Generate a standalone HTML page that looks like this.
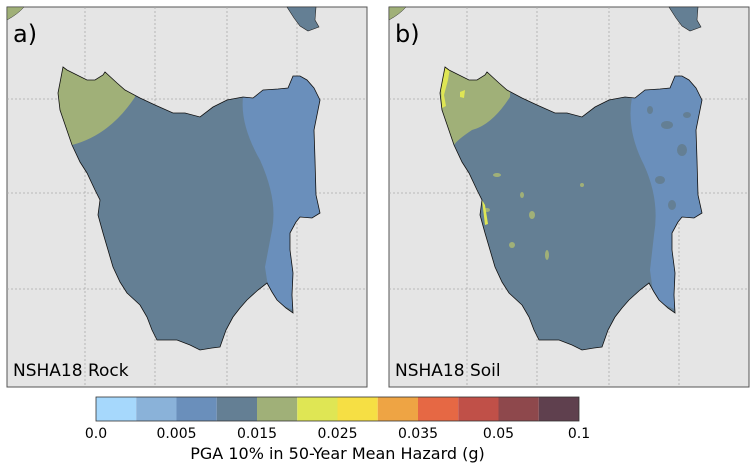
<!DOCTYPE html>
<html><head><style>
body{margin:0;background:#fff;width:756px;height:468px;overflow:hidden;font-family:"DejaVu Sans","Liberation Sans",sans-serif}
</style></head><body>
<svg width="756" height="468" xmlns="http://www.w3.org/2000/svg" font-family="DejaVu Sans, Liberation Sans, sans-serif">
<defs>
<path id="tas" d="M63,67 L58,93 L60,110 L72,145 L80,162 L87,173 L95,190 L100,200 L98,215 L103,233 L108,250 L113,267 L120,282 L127,293 L140,305 L147,317 L152,330 L157,340 L177,340 L190,345 L200,350 L212,348 L220,347 L226,330 L233,317 L240,308 L247,300 L258,290 L267,283 L272,292 L277,300 L286,308 L293,313 L292,295 L293,273 L290,250 L290,233 L296,222 L300,217 L312,218 L320,213 L316,195 L315,160 L314,130 L320,100 L314,88 L307,80 L300,76 L293,76 L288,88 L278,89 L263,90 L253,98 L243,97 L227,100 L213,107 L200,117 L185,113 L173,113 L155,105 L140,98 L125,90 L117,83 L105,72 L103,75 L95,80 L87,80 L75,74 L67,70 Z"/>
<clipPath id="ca"><use href="#tas"/></clipPath>
</defs>

<g>
<rect x="7" y="7" width="360" height="380" fill="#e5e5e5" stroke="#555" stroke-width="1"/>
<g stroke="#aaa" stroke-width="0.8" stroke-dasharray="2,2">
<line x1="85" y1="7" x2="85" y2="387"/><line x1="155" y1="7" x2="155" y2="387"/><line x1="227" y1="7" x2="227" y2="387"/><line x1="297" y1="7" x2="297" y2="387"/>
<line x1="7" y1="99" x2="367" y2="99"/><line x1="7" y1="193" x2="367" y2="193"/><line x1="7" y1="289" x2="367" y2="289"/>
</g>
<path d="M7,7 L24,7 Q18,14 7,20 Z" fill="#a0b078" stroke="#333" stroke-width="0.5"/>
<path d="M287,7 L316,7 L315,20 L319,27 L308,31 L300,26 L294,18 Z" fill="#647f94" stroke="#222" stroke-width="0.6"/>
<g clip-path="url(#ca)">
<rect x="40" y="50" width="300" height="320" fill="#647f94"/>
<path d="M40,50 L140,50 L135,97 Q110,135 72,145 L40,150 Z" fill="#a0b078"/>
<path d="M243,50 L243,97 Q240,125 260,160 Q278,200 272,230 L265,267 L270,300 L340,330 L340,50 Z" fill="#6a8fbb"/>
</g>
<use href="#tas" fill="none" stroke="#111" stroke-width="0.8"/>
<text x="13" y="42" font-size="24" fill="#000">a)</text>
<text x="13" y="376" font-size="17" fill="#000">NSHA18 Rock</text>
</g>

<g transform="translate(382,0)">
<rect x="7" y="7" width="360" height="380" fill="#e5e5e5" stroke="#555" stroke-width="1"/>
<g stroke="#aaa" stroke-width="0.8" stroke-dasharray="2,2">
<line x1="85" y1="7" x2="85" y2="387"/><line x1="155" y1="7" x2="155" y2="387"/><line x1="227" y1="7" x2="227" y2="387"/><line x1="297" y1="7" x2="297" y2="387"/>
<line x1="7" y1="99" x2="367" y2="99"/><line x1="7" y1="193" x2="367" y2="193"/><line x1="7" y1="289" x2="367" y2="289"/>
</g>
<path d="M7,7 L24,7 Q18,14 7,20 Z" fill="#a0b078" stroke="#333" stroke-width="0.5"/>
<path d="M287,7 L316,7 L315,20 L319,27 L308,31 L300,26 L294,18 Z" fill="#647f94" stroke="#222" stroke-width="0.6"/>
<g clip-path="url(#ca)">
<rect x="40" y="50" width="300" height="320" fill="#647f94"/>
<path d="M40,50 L130,50 L128,97 Q110,125 90,130 Q75,140 72,145 L40,150 Z" fill="#a0b078"/>
<path d="M58,66 L68,68 L66,80 L62,95 L64,106 L60,108 Z" fill="#dfe654"/>
<path d="M78,92 L83,90 L82,98 L78,97 Z" fill="#dfe654"/>
<path d="M240,95 L250,97 Q244,130 262,165 Q278,200 272,235 L268,270 L272,300 L340,330 L340,50 L240,50 Z" fill="#6a8fbb"/>
<g fill="#647f94">
<ellipse cx="285" cy="125" rx="6" ry="4"/><ellipse cx="300" cy="150" rx="5" ry="6"/><ellipse cx="278" cy="180" rx="5" ry="4"/>
<ellipse cx="305" cy="115" rx="4" ry="3"/><ellipse cx="290" cy="205" rx="4" ry="5"/><ellipse cx="268" cy="110" rx="3" ry="4"/>
</g>
<g fill="#a0b078">
<ellipse cx="115" cy="175" rx="4" ry="2"/><ellipse cx="150" cy="215" rx="3" ry="4"/><ellipse cx="130" cy="245" rx="3" ry="3"/>
<ellipse cx="165" cy="255" rx="2" ry="5"/><ellipse cx="105" cy="210" rx="3" ry="2"/><ellipse cx="200" cy="185" rx="2" ry="2"/>
<ellipse cx="140" cy="195" rx="2" ry="3"/>
</g>
<path d="M100,200 L103,225 L106,224 L103,205 Z" fill="#dfe654"/>
</g>
<use href="#tas" fill="none" stroke="#111" stroke-width="0.8"/>
<text x="13" y="42" font-size="24" fill="#000">b)</text>
<text x="13" y="376" font-size="17" fill="#000">NSHA18 Soil</text>
</g>

<g>
<rect x="96" y="397" width="40.25" height="24" fill="#a6d8fc"/>
<rect x="136.25" y="397" width="40.25" height="24" fill="#8ab2d9"/>
<rect x="176.5" y="397" width="40.25" height="24" fill="#6a8fbb"/>
<rect x="216.75" y="397" width="40.25" height="24" fill="#647f94"/>
<rect x="257" y="397" width="40.25" height="24" fill="#a0b078"/>
<rect x="297.25" y="397" width="40.25" height="24" fill="#dfe654"/>
<rect x="337.5" y="397" width="40.25" height="24" fill="#f6df44"/>
<rect x="377.75" y="397" width="40.25" height="24" fill="#eea444"/>
<rect x="418" y="397" width="40.25" height="24" fill="#e66844"/>
<rect x="458.25" y="397" width="40.25" height="24" fill="#c05048"/>
<rect x="498.5" y="397" width="40.25" height="24" fill="#8e484c"/>
<rect x="538.75" y="397" width="40.25" height="24" fill="#5f404e"/>
<rect x="96" y="397" width="483" height="24" fill="none" stroke="#333" stroke-width="0.8"/>
<g font-size="14" fill="#000" text-anchor="middle">
<text x="96" y="438">0.0</text><text x="176.5" y="438">0.005</text><text x="257" y="438">0.015</text>
<text x="337.5" y="438">0.025</text><text x="418" y="438">0.035</text><text x="498.5" y="438">0.05</text><text x="579" y="438">0.1</text>
</g>
<text x="337.5" y="459" font-size="16" text-anchor="middle" fill="#000">PGA 10% in 50-Year Mean Hazard (g)</text>
</g>
</svg>
</body></html>
